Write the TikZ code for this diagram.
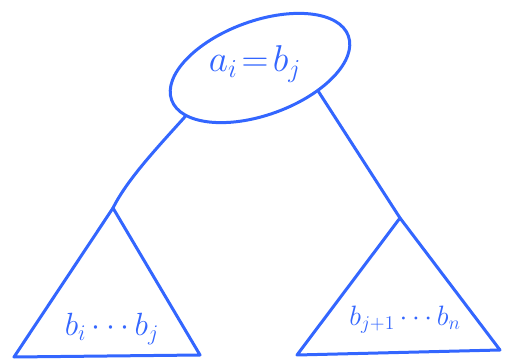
\documentclass[tikz,border=0pt]{standalone}
\usetikzlibrary{shapes.geometric}
\definecolor{pen}{RGB}{51,102,255}
\begin{document}
\begin{tikzpicture}[x=1pt,y=-1pt,
  pen/.style={draw=pen,line width=3pt,line join=round,line cap=round},
  lbl/.style={text=pen,inner sep=0pt,font=\huge}]
\useasboundingbox (0,0) rectangle (506,363);
\node[pen,ellipse,rotate=20,minimum width=188pt,minimum height=94pt,inner sep=0pt] (e) at (260,68) {};
\node[lbl,scale=1.8] (t) at (255,64) {$a_i\!=\!b_j$};
\coordinate (la) at (113,208);
\coordinate (lbl1) at (14,357);
\coordinate (lbr) at (200,355);
\coordinate (ra) at (400,218);
\coordinate (rbl) at (297,355);
\coordinate (rbr) at (500,350);
\draw[pen] (la) -- (lbl1) -- (lbr) -- cycle;
\draw[pen] (ra) -- (rbl) -- (rbr) -- cycle;
\draw[pen] (e.193) .. controls (155,150) and (127,180) .. (la);
\draw[pen] (e.318) -- (ra);
\node[lbl,scale=1.55] (lt) at (112,329) {$b_i\cdots b_j$};
\node[lbl,scale=1.35] (rt) at (405,320) {$b_{j+1}\cdots b_n$};
\end{tikzpicture}
\end{document}
